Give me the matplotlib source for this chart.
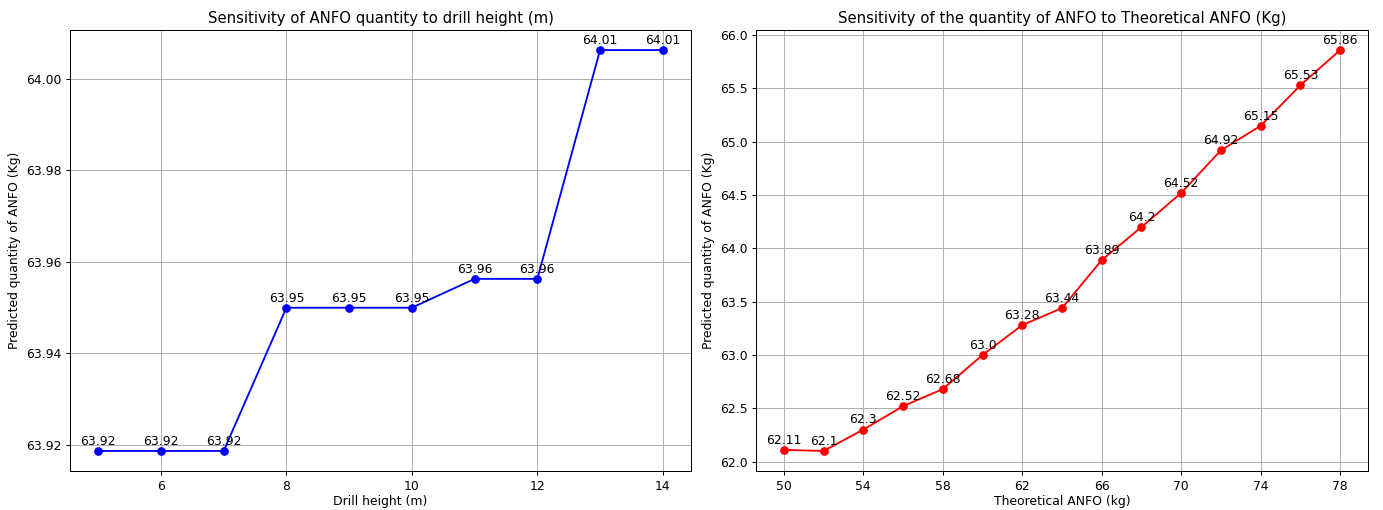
import matplotlib
matplotlib.use("Agg")
import matplotlib.pyplot as plt

# drill height sweep
drill_height = [5, 6, 7, 8, 9, 10, 11, 12, 13, 14]
anfo_vs_height = [63.9187, 63.9187, 63.9187, 63.9500, 63.9500, 63.9500,
                  63.9563, 63.9563, 64.0063, 64.0063]

# theoretical ANFO sweep
theo_anfo = [50, 52, 54, 56, 58, 60, 62, 64, 66, 68, 70, 72, 74, 76, 78]
anfo_vs_theo = [62.11, 62.10, 62.30, 62.52, 62.68, 63.00, 63.28, 63.44,
                63.89, 64.20, 64.52, 64.92, 65.15, 65.53, 65.86]
theo_ticks = list(range(50, 80, 4))

DPI = 89
W, H = 1383, 510
fig = plt.figure(figsize=(W / DPI, H / DPI), dpi=DPI)
# axes boxes in pixels: left, bottom, width, height
ax1 = fig.add_axes([70 / W, 39 / H, 621 / W, 441 / H])
ax2 = fig.add_axes([756 / W, 39 / H, 612 / W, 441 / H])

ax1.plot(drill_height, anfo_vs_height, marker="o", color="blue")
for x, y in zip(drill_height, anfo_vs_height):
    ax1.annotate(str(round(y, 2)), (x, y), textcoords="offset points",
                 xytext=(0, 5), ha="center")
ax1.set_title("Sensitivity of ANFO quantity to drill height (m)")
ax1.set_xlabel("Drill height (m)", labelpad=1.5)
ax1.set_ylabel("Predicted quantity of ANFO (Kg)")
ax1.grid(True)

ax2.plot(theo_anfo, anfo_vs_theo, marker="o", color="red")
for x, y in zip(theo_anfo, anfo_vs_theo):
    ax2.annotate(str(round(y, 2)), (x, y), textcoords="offset points",
                 xytext=(0, 5), ha="center")
ax2.set_xticks(theo_ticks)
ax2.set_title("Sensitivity of the quantity of ANFO to Theoretical ANFO (Kg)")
ax2.set_xlabel("Theoretical ANFO (kg)", labelpad=1.5)
ax2.set_ylabel("Predicted quantity of ANFO (Kg)")
ax2.grid(True)

fig.savefig("out.png", dpi=DPI)
